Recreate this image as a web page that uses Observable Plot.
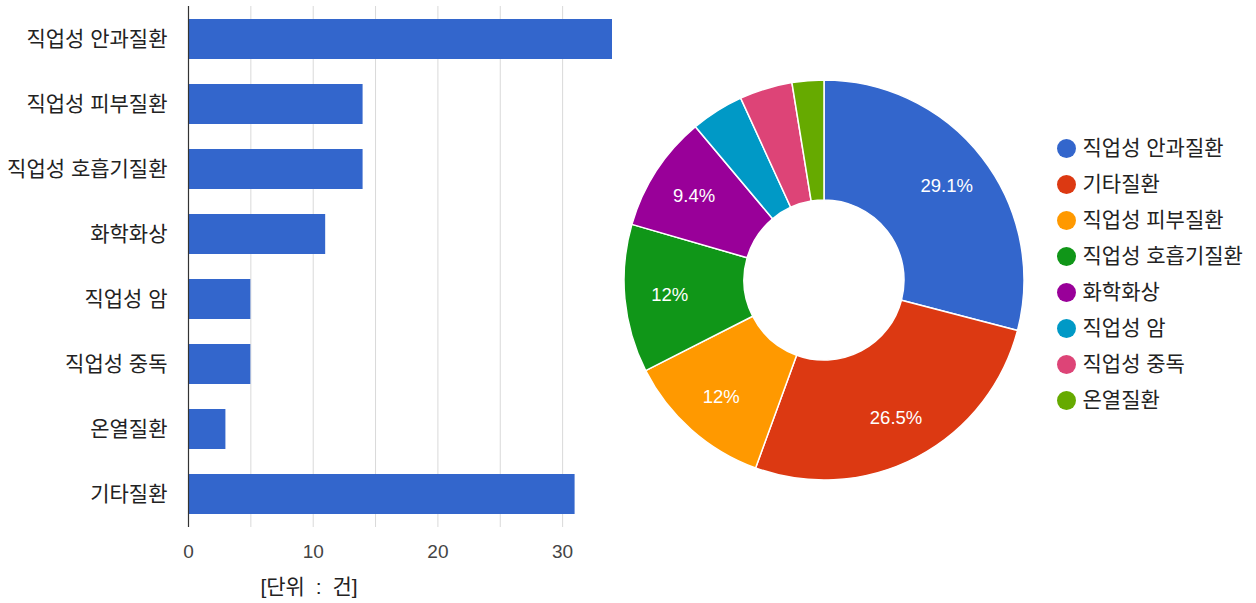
<!DOCTYPE html>
<html>
<head>
<meta charset="utf-8">
<script src="https://cdn.jsdelivr.net/npm/d3@7"></script>
<script src="https://cdn.jsdelivr.net/npm/@observablehq/plot@0.6"></script>
<style>
  html, body { margin: 0; padding: 0; background: #fff; }
  #root { position: relative; width: 1256px; height: 603px; overflow: hidden; background: #fff;
          font-family: "Liberation Sans", "Noto Sans CJK KR", sans-serif; }
  #bar, #pie, #legend { position: absolute; top: 0; }
  #bar { left: 0; }
  #pie { left: 624px; }
  #legend { left: 1048px; }
  #unit { position: absolute; left: 309px; top: 585px; transform: translate(-50%, -50%);
          font-size: 21px; color: #222; white-space: nowrap; word-spacing: 5px; }
</style>
</head>
<body>
<div id="root">
  <div id="bar"></div>
  <div id="pie"></div>
  <div id="legend"></div>
  <div id="unit"></div>
</div>
<script>
// ---- data ----
const barCategories = ["직업성 안과질환", "직업성 피부질환", "직업성 호흡기질환", "화학화상", "직업성 암", "직업성 중독", "온열질환", "기타질환"];
const barValues = [34, 14, 14, 11, 5, 5, 3, 31];

const pieCategories = ["직업성 안과질환", "기타질환", "직업성 피부질환", "직업성 호흡기질환", "화학화상", "직업성 암", "직업성 중독", "온열질환"];
const pieValues = [34, 31, 14, 14, 11, 5, 5, 3];
const pieColors = ["#3366cc", "#dc3912", "#ff9900", "#109618", "#990099", "#0099c6", "#dd4477", "#66aa00"];

const xTicks = [0, 10, 20, 30];
const gridTicks = [5, 10, 15, 20, 25, 30];
const unitLabel = "[단위 : 건]";

const FONT = '"Liberation Sans", "Noto Sans CJK KR", sans-serif';

// ---- bar chart ----
const barData = barCategories.map((c, i) => ({category: c, value: barValues[i]}));

const bar = Plot.plot({
  width: 640,
  height: 603,
  marginLeft: 188,
  marginRight: 28,
  marginTop: 6,
  marginBottom: 76,
  style: {fontFamily: FONT, fontSize: "19px", background: "#fff", overflow: "visible"},
  x: {domain: [0, 34]},
  y: {domain: barCategories, paddingInner: 0.385, paddingOuter: 0.19},
  marks: [
    Plot.gridX(gridTicks, {stroke: "#d9d9d9", strokeOpacity: 1}),
    Plot.barX(barData, {x: "value", y: "category", fill: "#3366cc"}),
    Plot.ruleX([0], {stroke: "#333", strokeWidth: 1.2}),
    Plot.axisX({ticks: xTicks, tickSize: 0, tickPadding: 17, label: null, fill: "#444", fontSize: 19}),
    Plot.axisY({tickSize: 0, tickPadding: 21, label: null, fill: "#222", fontSize: 21})
  ]
});
document.getElementById("bar").appendChild(bar);
document.getElementById("unit").textContent = unitLabel;

// ---- donut chart ----
const colorScale = Plot.scale({color: {type: "ordinal", domain: pieCategories, range: pieColors}});
const total = d3.sum(pieValues);
const pieData = pieCategories.map((c, i) => ({category: c, value: pieValues[i]}));

function donutMark(index, scales, values, dimensions) {
  const {width, height, marginLeft, marginRight, marginTop, marginBottom} = dimensions;
  const cx = marginLeft + (width - marginLeft - marginRight) / 2;
  const cy = marginTop + (height - marginTop - marginBottom) / 2;
  const outer = Math.min(width - marginLeft - marginRight, height - marginTop - marginBottom) / 2;
  const inner = outer * 0.4;
  const arcs = d3.pie().sort(null).value(d => d.value)(pieData);
  const arc = d3.arc().innerRadius(inner).outerRadius(outer);
  const labelArc = d3.arc().innerRadius(outer * 0.775).outerRadius(outer * 0.775);
  const g = d3.create("svg:g").attr("transform", `translate(${cx},${cy})`);
  g.selectAll("path").data(arcs).join("path")
    .attr("d", arc)
    .attr("fill", d => colorScale.apply(d.data.category))
    .attr("stroke", "#fff")
    .attr("stroke-width", 1.5);
  g.selectAll("text").data(arcs.filter(d => d.data.value / total >= 0.05)).join("text")
    .attr("transform", d => `translate(${labelArc.centroid(d)})`)
    .attr("text-anchor", "middle")
    .attr("dy", "0.36em")
    .attr("fill", "#fff")
    .attr("font-size", 18.5)
    .attr("font-family", FONT)
    .text(d => {
      const p = d.data.value / total * 100;
      const r = Math.round(p * 10) / 10;
      return (Number.isInteger(r) ? r.toFixed(0) : r.toFixed(1)) + "%";
    });
  return g.node();
}

const pie = Plot.plot({
  width: 400,
  height: 603,
  marginLeft: 0,
  marginRight: 0,
  marginTop: 80,
  marginBottom: 123,
  style: {background: "transparent", overflow: "visible"},
  x: {axis: null},
  y: {axis: null},
  marks: [donutMark]
});
document.getElementById("pie").appendChild(pie);

// ---- legend ----
const legend = Plot.plot({
  width: 208,
  height: 603,
  margin: 0,
  style: {fontFamily: FONT, fontSize: "21px", background: "transparent", overflow: "visible"},
  x: {domain: [0, 1], range: [18, 200], axis: null},
  y: {type: "point", domain: pieCategories, range: [145, 403], padding: 0, axis: null},
  color: {domain: pieCategories, range: pieColors},
  marks: [
    Plot.dot(pieCategories, {x: () => 0, y: d => d, r: 9.5, fill: d => d}),
    Plot.text(pieCategories, {x: () => 0, y: d => d, text: d => d, dx: 16, textAnchor: "start", fill: "#222", fontSize: 21})
  ]
});
document.getElementById("legend").appendChild(legend);
</script>
</body>
</html>
